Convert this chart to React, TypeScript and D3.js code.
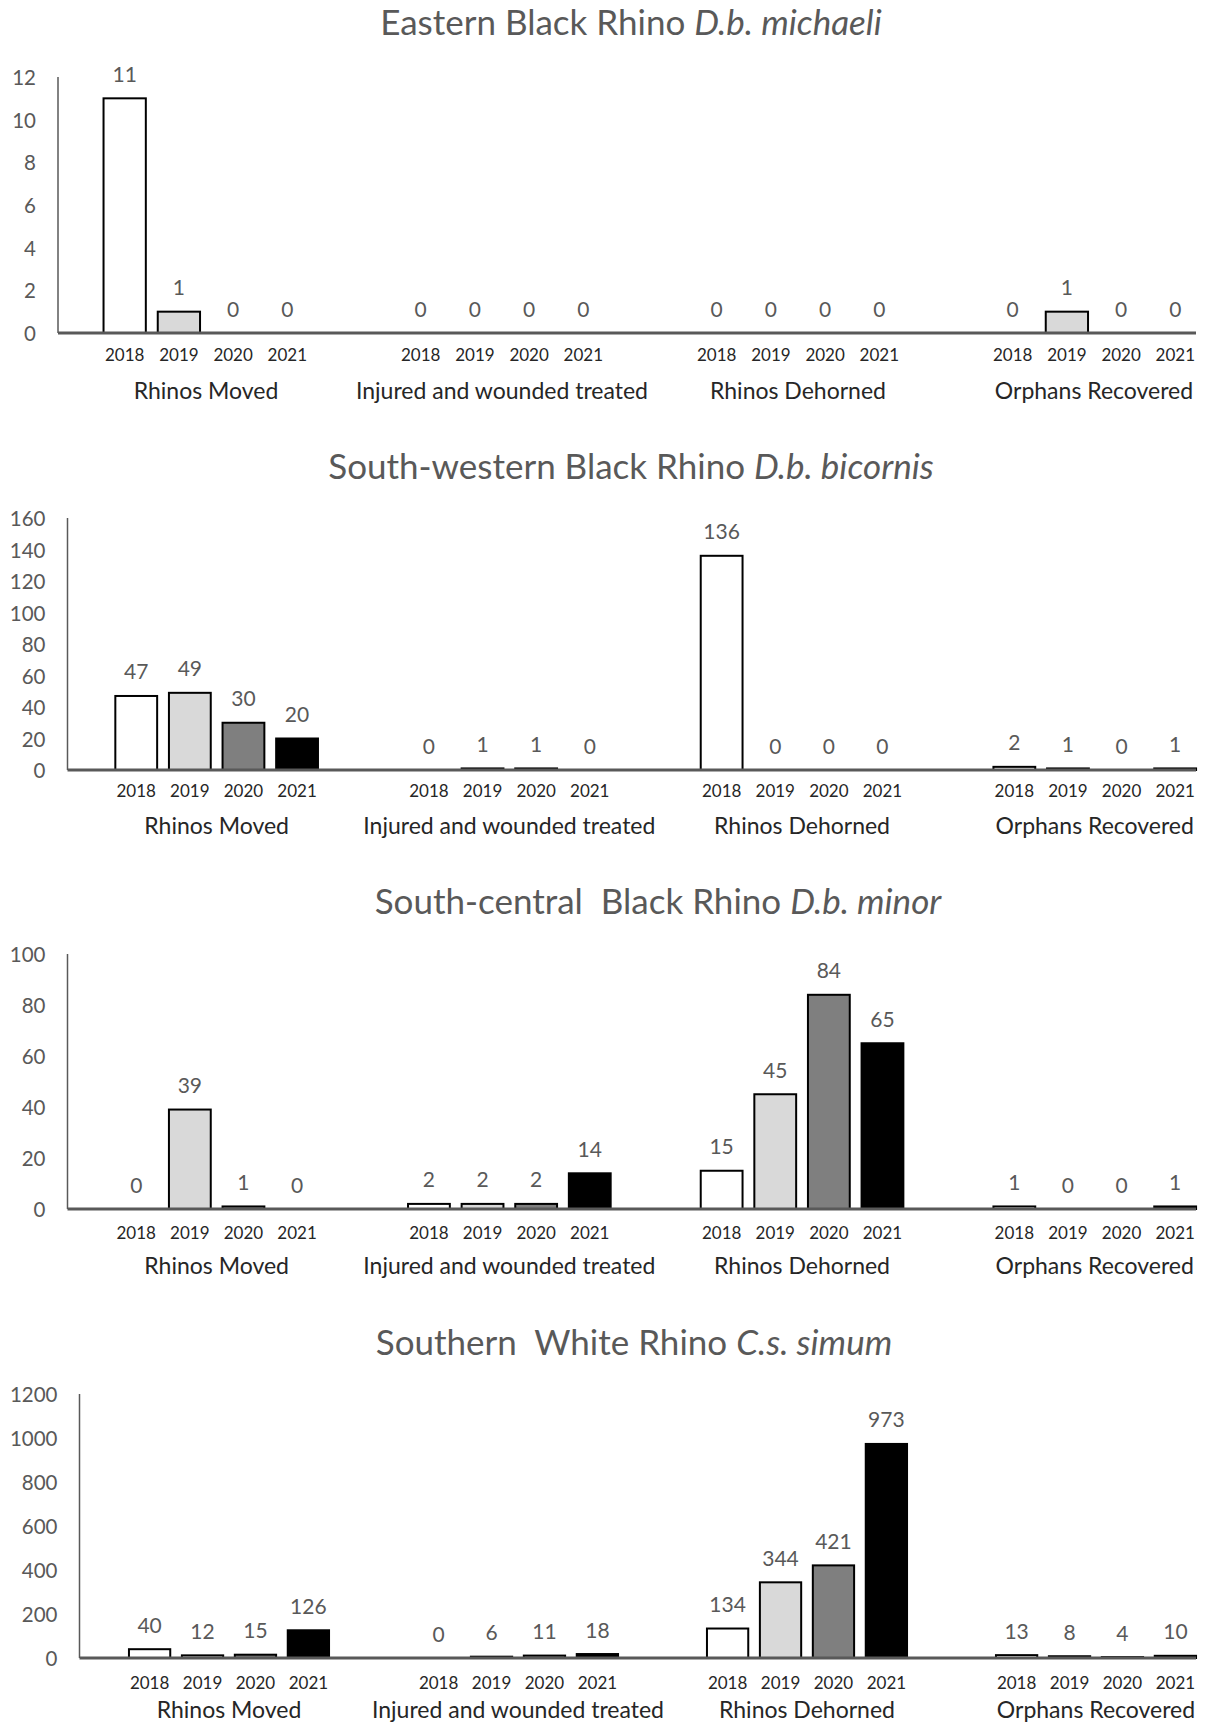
import React from "react";
import * as d3 from "d3";

const years = ["2018", "2019", "2020", "2021"];
const activities = ["Rhinos Moved", "Injured and wounded treated", "Rhinos Dehorned", "Orphans Recovered"];
const yearFills = ["#ffffff", "#d9d9d9", "#7f7f7f", "#000000"];

const titlesPlain = ["Eastern Black Rhino ", "South-western Black Rhino ", "South-central  Black Rhino ", "Southern  White Rhino "];
const titlesItalic = ["D.b. michaeli", "D.b. bicornis", "D.b. minor", "C.s. simum"];

// values per activity, per year (2018..2021)
const easternValues = [[11, 1, 0, 0], [0, 0, 0, 0], [0, 0, 0, 0], [0, 1, 0, 0]];
const southWesternValues = [[47, 49, 30, 20], [0, 1, 1, 0], [136, 0, 0, 0], [2, 1, 0, 1]];
const southCentralValues = [[0, 39, 1, 0], [2, 2, 2, 14], [15, 45, 84, 65], [1, 0, 0, 1]];
const southernWhiteValues = [[40, 12, 15, 126], [0, 6, 11, 18], [134, 344, 421, 973], [13, 8, 4, 10]];

const yMaxes = [12, 160, 100, 1200];
const yTickSteps = [2, 20, 20, 200];

const allValues = [easternValues, southWesternValues, southCentralValues, southernWhiteValues];

// layout (pixel positions only)
const layouts = [
  { x0: 58, gStart: 0, step: 296, yTop: 77, yBottom: 333, titleX: 631, titleY: 21, yearY: 354, catY: 390 },
  { x0: 67.5, gStart: 2.8, step: 292.7, yTop: 518, yBottom: 770, titleX: 631, titleY: 465, yearY: 790, catY: 825 },
  { x0: 67.5, gStart: 2.8, step: 292.7, yTop: 954, yBottom: 1209, titleX: 658, titleY: 900, yearY: 1232, catY: 1265 },
  { x0: 79.5, gStart: 5, step: 289, yTop: 1394, yBottom: 1658, titleX: 634, titleY: 1341, yearY: 1682, catY: 1709 },
];
const plotRight = 1196;
const FONT = "Lato, 'Open Sans', sans-serif";
const GRAY = "#595959";

function Panel({ idx }: { idx: number }) {
  const L = layouts[idx];
  const values = allValues[idx];
  const y = d3.scaleLinear().domain([0, yMaxes[idx]]).range([L.yBottom, L.yTop]);
  const ticks = d3.range(0, yMaxes[idx] + yTickSteps[idx] / 2, yTickSteps[idx]);
  const gx = d3
    .scaleBand<string>()
    .domain(activities)
    .range([L.x0 + L.gStart, L.x0 + L.gStart + 4 * L.step])
    .paddingInner(0)
    .paddingOuter(0);
  const yx = d3.scaleBand<string>().domain(years).range([0, gx.bandwidth()]).paddingInner(0.22).paddingOuter(0.84);

  return (
    <g>
      <text x={L.titleX} y={L.titleY} textAnchor="middle" dominantBaseline="central" fontSize={35} fill={GRAY} fontFamily={FONT} style={{ whiteSpace: "pre" }}>
        {titlesPlain[idx]}
        <tspan fontStyle="italic">{titlesItalic[idx]}</tspan>
      </text>
      {ticks.map((t) => (
        <text key={t} x={L.x0 - 22} y={y(t)} textAnchor="end" dominantBaseline="central" fontSize={20.5} fill={GRAY} fontFamily={FONT}>
          {t}
        </text>
      ))}
      {activities.map((a, ai) => (
        <g key={a}>
          {years.map((yr, yi) => {
            const v = values[ai][yi];
            const bx = (gx(a) as number) + (yx(yr) as number);
            const bw = yx.bandwidth();
            const cx = bx + bw / 2;
            return (
              <g key={yr}>
                {v > 0 && (
                  <rect x={bx} y={y(v)} width={bw} height={L.yBottom - y(v)} fill={yearFills[yi]} stroke="#000" strokeWidth={2} />
                )}
                <text x={cx} y={y(v) - 25} textAnchor="middle" dominantBaseline="central" fontSize={21} fill={GRAY} fontFamily={FONT}>
                  {v}
                </text>
                <text x={cx} y={L.yearY} textAnchor="middle" dominantBaseline="central" fontSize={17} fill="#262626" fontFamily={FONT}>
                  {yr}
                </text>
              </g>
            );
          })}
          <text x={(gx(a) as number) + gx.bandwidth() / 2} y={L.catY} textAnchor="middle" dominantBaseline="central" fontSize={23} fill="#262626" fontFamily={FONT}>
            {a}
          </text>
        </g>
      ))}
      <line x1={L.x0} x2={L.x0} y1={L.yTop} y2={L.yBottom} stroke={GRAY} strokeWidth={1.5} />
      <line x1={L.x0} x2={plotRight} y1={L.yBottom} y2={L.yBottom} stroke={GRAY} strokeWidth={3} />
    </g>
  );
}

export default function App() {
  return (
    <svg width={1209} height={1724} style={{ position: "absolute", left: 0, top: 0, background: "#fff" }}>
      <rect width={1209} height={1724} fill="#fff" />
      {[0, 1, 2, 3].map((i) => (
        <Panel key={i} idx={i} />
      ))}
    </svg>
  );
}
